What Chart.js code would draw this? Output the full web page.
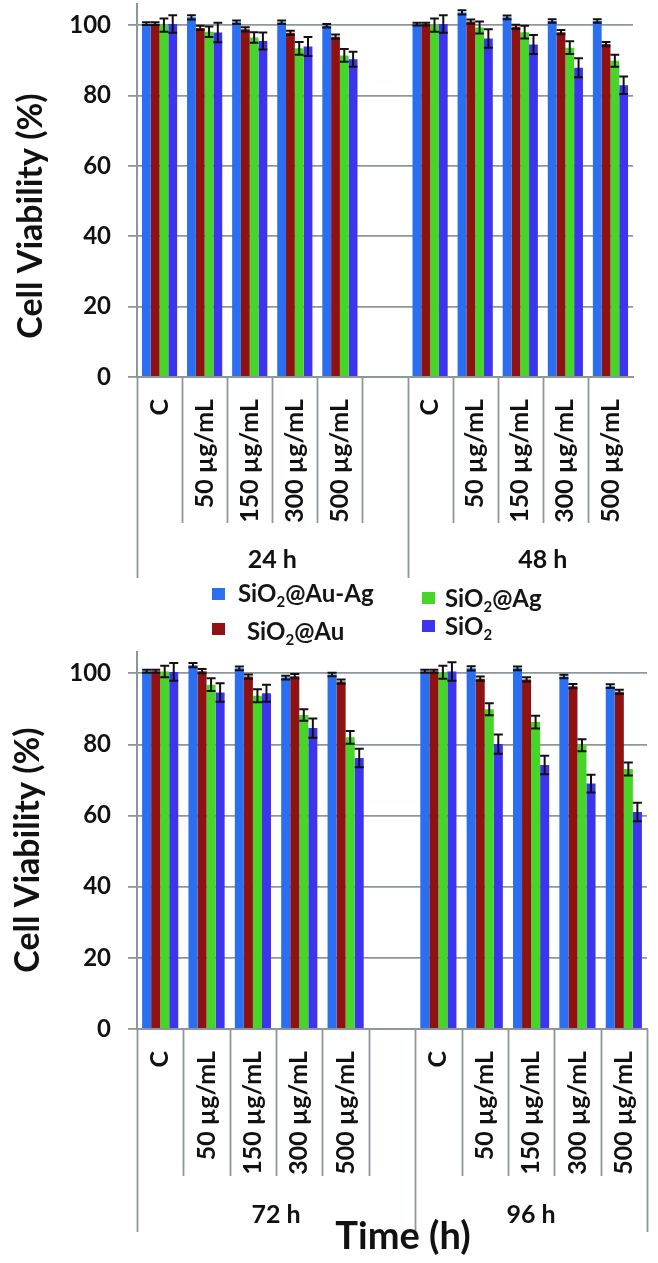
<!DOCTYPE html>
<html>
<head>
<meta charset="utf-8">
<script src="https://cdn.jsdelivr.net/npm/chart.js@4.4.1/dist/chart.umd.min.js"></script>
<style>
  body { margin: 0; background: #fff; }
  #wrap { position: relative; width: 658px; height: 1263px; overflow: hidden; }
  #topChart { position: absolute; left: 0; top: 0; }
  #bottomChart { position: absolute; left: 0; top: 640px; }
  .sw { position: absolute; width: 13px; height: 12px; }
  .lt { position: absolute; font: bold 24px Lato, sans-serif; color: #151515; line-height: 24px; white-space: nowrap; }
  .lt sub { font-size: 15px; line-height: 0; vertical-align: -5px; }
</style>
</head>
<body>
<div id="wrap">
  <canvas id="topChart" width="658" height="590"></canvas>
  <canvas id="bottomChart" width="658" height="623"></canvas>

  <div class="sw" style="left:212px;top:588px;background:#2a6ff2"></div>
  <div class="lt" style="left:238px;top:581px">SiO<sub>2</sub>@Au-Ag</div>
  <div class="sw" style="left:212px;top:623px;background:#8f1212"></div>
  <div class="lt" style="left:247px;top:619px">SiO<sub>2</sub>@Au</div>
  <div class="sw" style="left:422px;top:592px;background:#46d628"></div>
  <div class="lt" style="left:445px;top:586px">SiO<sub>2</sub>@Ag</div>
  <div class="sw" style="left:422px;top:620px;background:#3c34ee"></div>
  <div class="lt" style="left:445px;top:614px">SiO<sub>2</sub></div>
</div>

<script>
// dose categories and time groups
const doseLabels = ["C", "50 µg/mL", "150 µg/mL", "300 µg/mL", "500 µg/mL"];
const seriesNames = ["SiO2@Au-Ag", "SiO2@Au", "SiO2@Ag", "SiO2"];
const seriesColors = ["#2a6ff2", "#8f1212", "#46d628", "#3c34ee"];
const yTicks = [0, 20, 40, 60, 80, 100];

// cell viability (%) per dose, one array per series and time point
const auAg24 = [100.4, 102.2, 100.8, 100.8, 99.8];
const au24 = [100.4, 99.2, 98.8, 97.8, 96.7];
const ag24 = [100.0, 98.1, 96.5, 93.4, 91.4];
const si24 = [100.3, 97.9, 95.5, 93.9, 90.3];

const auAg48 = [100.3, 103.6, 102.2, 101.2, 101.2];
const au48 = [100.3, 101.0, 99.5, 98.0, 94.6];
const ag48 = [100.0, 99.3, 98.0, 93.6, 89.9];
const si48 = [100.3, 96.2, 94.5, 87.9, 82.9];

const auAg72 = [100.6, 102.3, 101.4, 98.8, 99.7];
const au72 = [100.6, 100.6, 99.1, 99.2, 97.7];
const ag72 = [100.5, 96.8, 93.7, 88.3, 82.0];
const si72 = [100.4, 94.6, 94.4, 84.6, 76.2];

const auAg96 = [100.6, 101.4, 101.4, 99.1, 96.4];
const au96 = [100.6, 98.5, 98.3, 96.4, 94.8];
const ag96 = [100.3, 89.9, 86.3, 79.8, 73.1];
const si96 = [100.5, 80.1, 74.2, 69.0, 61.0];

// error bars (±)
const auAgErr = [0.4, 0.6, 0.5, 0.5, 0.5];
const auErr = [0.4, 0.6, 0.6, 0.6, 0.6];
const agErr24 = [1.9, 1.5, 1.5, 1.8, 1.8];
const siErr24 = [2.5, 2.8, 2.4, 2.7, 2.1];
const agErr48 = [1.9, 1.7, 1.8, 1.8, 1.7];
const siErr48 = [2.5, 2.6, 2.7, 2.7, 2.5];
const agErr72 = [1.6, 1.8, 1.8, 1.6, 1.8];
const siErr72 = [2.5, 2.6, 2.4, 2.7, 2.6];
const agErr96 = [1.8, 1.7, 1.8, 1.7, 1.8];
const siErr96 = [2.6, 2.7, 2.6, 2.5, 2.6];

const lineGray = "#8d9799";
const FONT = "Lato, sans-serif";

// two time points share one panel, with an empty slot between them
function joinPair(a, b) {
  return [...a, null, ...b];
}

const decor = {
  id: "decor",
  afterDatasetsDraw(chart) {
    const { ctx } = chart;
    const y = chart.scales.y;
    ctx.save();
    ctx.strokeStyle = "#111";
    ctx.lineWidth = 2;
    chart.data.datasets.forEach((ds, i) => {
      chart.getDatasetMeta(i).data.forEach((bar, j) => {
        const v = ds.data[j];
        if (v == null) return;
        const e = ds.errors[j];
        const y1 = y.getPixelForValue(v + e);
        const y2 = y.getPixelForValue(v - e);
        const hw = bar.width * 0.5;
        ctx.beginPath();
        ctx.moveTo(bar.x, y1);
        ctx.lineTo(bar.x, y2);
        ctx.moveTo(bar.x - hw, y1);
        ctx.lineTo(bar.x + hw, y1);
        ctx.moveTo(bar.x - hw, y2);
        ctx.lineTo(bar.x + hw, y2);
        ctx.stroke();
      });
    });
    ctx.restore();
  },
  afterDraw(chart, args, opts) {
    const { ctx, chartArea } = chart;
    const x = chart.scales.x;
    const n = chart.data.labels.length;
    const w = x.getPixelForValue(1) - x.getPixelForValue(0);
    const x0 = x.getPixelForValue(0);
    const base = chartArea.bottom;
    ctx.save();
    ctx.strokeStyle = lineGray;
    ctx.lineWidth = 1.8;
    for (let b = 0; b <= n; b++) {
      if (opts.skip.includes(b)) continue;
      const px = Math.round(x0 + (b - 0.5) * w) + 0.5;
      const len = opts.longAt.includes(b) ? opts.longLen : opts.shortLen;
      ctx.beginPath();
      ctx.moveTo(px, base);
      ctx.lineTo(px, base + len);
      ctx.stroke();
    }
    ctx.fillStyle = "#111";
    ctx.textAlign = "center";
    ctx.textBaseline = "middle";
    ctx.font = "bold 25px " + FONT;
    opts.groups.forEach((g) => {
      ctx.fillText(g.text, x0 + ((g.from + g.to) / 2) * w, opts.groupY);
    });
    ctx.font = "bold 34px " + FONT;
    ctx.translate(opts.yTitle.x, opts.yTitle.y);
    ctx.rotate(-Math.PI / 2);
    ctx.fillText("Cell Viability (%)", 0, 0);
    ctx.restore();
    if (opts.xTitle) {
      ctx.save();
      ctx.fillStyle = "#111";
      ctx.textAlign = "center";
      ctx.textBaseline = "middle";
      ctx.font = "bold 38px " + FONT;
      ctx.fillText(opts.xTitle.text, opts.xTitle.x, opts.xTitle.y);
      ctx.restore();
    }
  },
};

function makePanel(id, first, second, layoutPad, axisHeight, decorOpts) {
  const datasets = first.map((vals, i) => ({
    label: seriesNames[i],
    data: joinPair(vals.data, second[i].data),
    errors: joinPair(vals.err, second[i].err),
    backgroundColor: seriesColors[i],
    borderWidth: 0,
    categoryPercentage: 0.78,
    barPercentage: 1.0,
  }));
  return new Chart(document.getElementById(id), {
    type: "bar",
    data: { labels: joinPair(doseLabels, doseLabels).map((l) => l || ""), datasets },
    options: {
      responsive: false,
      animation: false,
      layout: { autoPadding: false, padding: layoutPad },
      plugins: { legend: { display: false }, tooltip: { enabled: false }, decor: decorOpts },
      scales: {
        x: {
          grid: { display: false },
          border: { display: true, color: lineGray, width: 2 },
          ticks: {
            autoSkip: false,
            minRotation: 90,
            maxRotation: 90,
            padding: 14,
            color: "#111",
            font: { family: FONT, size: 25, weight: "bold" },
          },
          afterFit: (s) => {
            s.height = axisHeight;
            s.paddingLeft = 0;
            s.paddingRight = 0;
          },
        },
        y: {
          min: 0,
          max: 106,
          afterBuildTicks: (s) => { s.ticks = yTicks.map((v) => ({ value: v })); },
          grid: { color: lineGray, lineWidth: 1.8, tickLength: 9, drawTicks: true },
          border: { display: true, color: lineGray, width: 2 },
          ticks: {
            padding: 17,
            color: "#111",
            font: { family: FONT, size: 24, weight: "bold" },
          },
          afterFit: (s) => {
            s.width = 137;
            s.paddingTop = 0;
            s.paddingBottom = 0;
          },
        },
      },
    },
    plugins: [decor],
  });
}

makePanel(
  "topChart",
  [
    { data: auAg24, err: auAgErr }, { data: au24, err: auErr },
    { data: ag24, err: agErr24 }, { data: si24, err: siErr24 },
  ],
  [
    { data: auAg48, err: auAgErr }, { data: au48, err: auErr },
    { data: ag48, err: agErr48 }, { data: si48, err: siErr48 },
  ],
  { top: 4, right: 25, left: 0, bottom: 0 },
  213,
  {
    skip: [11],
    longAt: [0, 6],
    shortLen: 146,
    longLen: 201,
    groupY: 560,
    groups: [{ text: "24 h", from: 0, to: 5 }, { text: "48 h", from: 6, to: 11 }],
    yTitle: { x: 31, y: 216 },
  }
);

makePanel(
  "bottomChart",
  [
    { data: auAg72, err: auAgErr }, { data: au72, err: auErr },
    { data: ag72, err: agErr72 }, { data: si72, err: siErr72 },
  ],
  [
    { data: auAg96, err: auAgErr }, { data: au96, err: auErr },
    { data: ag96, err: agErr96 }, { data: si96, err: siErr96 },
  ],
  { top: 12, right: 11, left: 0, bottom: 0 },
  234,
  {
    skip: [],
    longAt: [0, 6, 11],
    shortLen: 147,
    longLen: 203,
    groupY: 575,
    groups: [{ text: "72 h", from: 0, to: 5 }, { text: "96 h", from: 6, to: 10 }],
    yTitle: { x: 28, y: 210 },
    xTitle: { text: "Time (h)", x: 403, y: 597 },
  }
);
</script>
</body>
</html>
